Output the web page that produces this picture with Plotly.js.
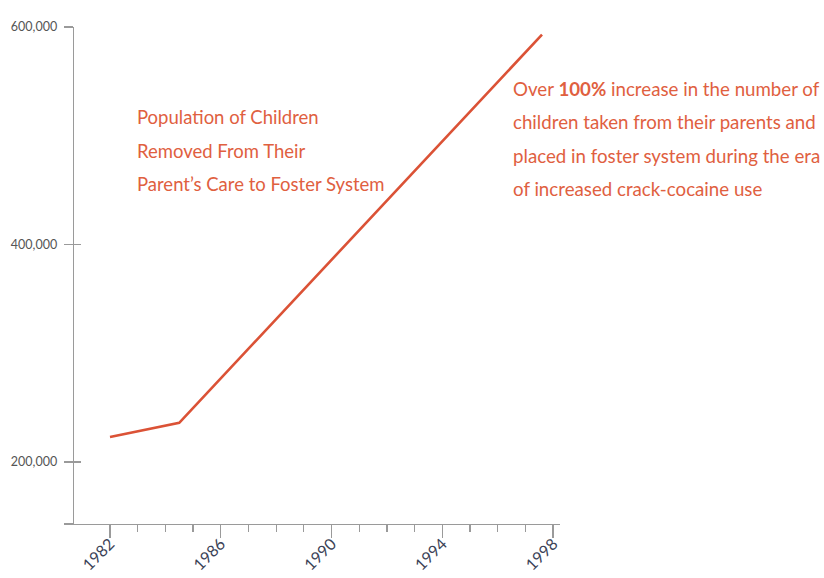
<!DOCTYPE html>
<html>
<head>
<meta charset="utf-8">
<script src="https://cdn.plot.ly/plotly-3.0.1.min.js"></script>
<style>
  html, body { margin: 0; padding: 0; background: #ffffff; }
  #chart { width: 824px; height: 578px; }
</style>
</head>
<body>
<div id="chart"></div>
<script>
// Children in foster care, 1982–1998
const years = [1982, 1984.5, 1997.6];
const children = [223000, 236000, 593000];

// Axis ticks
const yTickVals = [143000, 200000, 400000, 600000];
const yTickText = ['', '200,000', '400,000', '600,000'];
const xTickVals = [1982, 1986, 1990, 1994, 1998];
const xTickText = ['1982', '1986', '1990', '1994', '1998'];
const xMinorVals = [1983, 1984, 1985, 1987, 1988, 1989, 1991, 1992, 1993, 1995, 1996, 1997];

// Text blocks
const titleLines = [
  'Population of Children',
  'Removed From Their',
  'Parent\u2019s Care to Foster System'
];
const noteLines = [
  'Over <b>100%</b> increase in the number of',
  'children taken from their parents and',
  'placed in foster system during the era',
  'of increased crack-cocaine use'
];

const ORANGE = '#e0603f';
const LINE = '#db5236';
const AXIS = '#9a9a9a';
const FONT = 'Lato, "Open Sans", sans-serif';

const W = 824, H = 578;
const M = { l: 74, r: 264, t: 27, b: 54 };
const plotW = W - M.l - M.r;
const plotH = H - M.t - M.b;
const px2x = px => (px - M.l) / plotW;
const py2y = py => (H - M.b - py) / plotH;

const annotations = [];
titleLines.forEach((t, i) => {
  annotations.push({
    text: t, xref: 'paper', yref: 'paper',
    x: px2x(135), y: py2y(117 + i * 33.5),
    xanchor: 'left', yanchor: 'middle', showarrow: false,
    font: { family: FONT, size: 18.5, color: ORANGE }
  });
});
noteLines.forEach((t, i) => {
  annotations.push({
    text: t, xref: 'paper', yref: 'paper',
    x: px2x(511), y: py2y(89 + i * 33.3),
    xanchor: 'left', yanchor: 'middle', showarrow: false,
    font: { family: FONT, size: 18.7, color: ORANGE }
  });
});

const traces = [
  {
    x: years, y: children, type: 'scatter', mode: 'lines',
    line: { color: LINE, width: 2.6 },
    hoverinfo: 'x+y', showlegend: false
  },
  {
    // carries the inner half of the y tick marks
    x: years, y: children, type: 'scatter', mode: 'lines',
    yaxis: 'y2', line: { width: 0 }, opacity: 0,
    hoverinfo: 'skip', showlegend: false
  }
];

const yRange = [143000, 600000];

const layout = {
  width: W, height: H,
  margin: M,
  paper_bgcolor: '#ffffff', plot_bgcolor: '#ffffff',
  font: { family: FONT },
  showlegend: false,
  xaxis: {
    range: [1980.7, 1998.25],
    tickvals: xTickVals, ticktext: xTickText,
    ticks: 'outside', ticklen: 13, tickwidth: 1.2, tickcolor: AXIS,
    minor: { tickmode: 'array', tickvals: xMinorVals, ticks: 'outside', ticklen: 7, tickwidth: 1.2, tickcolor: AXIS, showgrid: false },
    tickangle: -45,
    ticklabelstandoff: -10,
    tickfont: { family: FONT, size: 16, color: '#3c4357' },
    showline: true, linecolor: AXIS, linewidth: 1.3,
    showgrid: false, zeroline: false, fixedrange: true
  },
  yaxis: {
    range: yRange,
    tickvals: yTickVals, ticktext: yTickText,
    ticks: 'outside', ticklen: 9, tickwidth: 1.2, tickcolor: AXIS,
    tickfont: { family: FONT, size: 12.5, color: '#555555' },
    ticklabelstandoff: 4,
    showline: true, linecolor: AXIS, linewidth: 1.3,
    showgrid: false, zeroline: false, fixedrange: true
  },
  yaxis2: {
    overlaying: 'y', side: 'left', range: yRange,
    tickvals: yTickVals, showticklabels: false,
    ticks: 'inside', ticklen: 7, tickwidth: 1.2, tickcolor: AXIS,
    showline: false, showgrid: false, zeroline: false, fixedrange: true
  },
  annotations: annotations
};

Plotly.newPlot('chart', traces, layout, { displayModeBar: false, staticPlot: true });
</script>
</body>
</html>
